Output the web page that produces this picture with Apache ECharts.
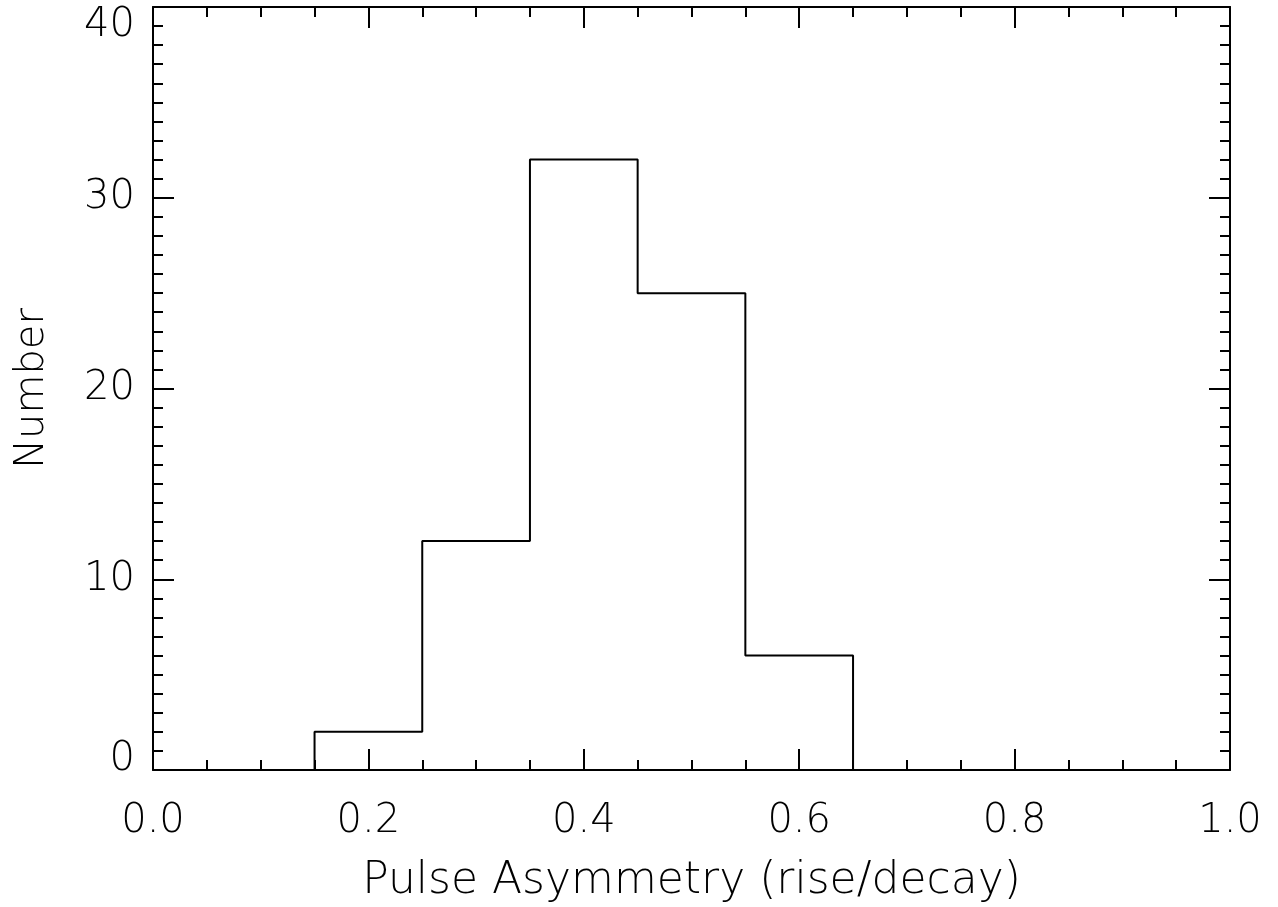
<!DOCTYPE html>
<html>
<head>
<meta charset="utf-8">
<script src="https://cdn.jsdelivr.net/npm/echarts@6/dist/echarts.min.js"></script>
<style>
html,body{margin:0;padding:0;background:#fff;}
#chart{width:1278px;height:907px;}
</style>
</head>
<body>
<div id="chart"></div>
<script>
// Histogram bin edges and counts
const binEdges = [0.15, 0.25, 0.35, 0.45, 0.55, 0.65];
const counts = [2, 12, 32, 25, 6];
const xTicks = [0.0, 0.2, 0.4, 0.6, 0.8, 1.0];
const yTicks = [0, 10, 20, 30, 40];
const xName = 'Pulse Asymmetry (rise/decay)';
const yName = 'Number';

// build step outline from bins
const outline = [[binEdges[0], 0]];
for (let i = 0; i < counts.length; i++) outline.push([binEdges[i + 1], counts[i]]);
outline.push([binEdges[binEdges.length - 1], 0]);

const FONT = 'DejaVu Sans';
const lineStyle = { color: '#000', width: 2 };
const chart = echarts.init(document.getElementById('chart'));
const yMin = yTicks[0], yMax = yTicks[yTicks.length - 1];

chart.setOption({
  animation: false,
  backgroundColor: '#fff',
  grid: { left: 153, right: 48, top: 7, bottom: 137, containLabel: false, outerBoundsMode: 'none' },
  xAxis: [{
    type: 'value', min: xTicks[0], max: xTicks[xTicks.length - 1], interval: 0.2,
    position: 'bottom',
    name: xName, nameLocation: 'middle', nameGap: 90,
    nameTextStyle: { fontFamily: FONT, fontSize: 44, fontWeight: 200, color: '#000', lineHeight: 44 },
    axisLine: { show: true, onZero: false, lineStyle: lineStyle },
    axisTick: { show: true, inside: true, length: 21, lineStyle: lineStyle },
    minorTick: { show: true, splitNumber: 4, length: 10, lineStyle: lineStyle },
    splitLine: { show: false }, minorSplitLine: { show: false },
    axisLabel: { show: true, margin: 32, fontFamily: FONT, fontSize: 40, fontWeight: 200, color: '#000', lineHeight: 40,
      formatter: v => v.toFixed(1) }
  }, {
    type: 'value', min: xTicks[0], max: xTicks[xTicks.length - 1], interval: 0.2,
    position: 'top',
    axisLine: { show: true, onZero: false, lineStyle: lineStyle },
    axisTick: { show: true, inside: true, length: 21, lineStyle: lineStyle },
    minorTick: { show: true, splitNumber: 4, length: 10, lineStyle: lineStyle },
    splitLine: { show: false }, axisLabel: { show: false }
  }],
  yAxis: [{
    type: 'value', min: yMin, max: yMax, interval: 10,
    position: 'left',
    name: yName, nameLocation: 'middle', nameGap: 100, nameRotate: 90,
    nameTextStyle: { fontFamily: FONT, fontSize: 40, fontWeight: 200, color: '#000' },
    axisLine: { show: true, onZero: false, lineStyle: lineStyle },
    axisTick: { show: true, inside: true, length: 21, lineStyle: lineStyle },
    minorTick: { show: true, splitNumber: 10, length: 10, lineStyle: lineStyle },
    splitLine: { show: false }, minorSplitLine: { show: false },
    axisLabel: { show: true, margin: 18, fontFamily: FONT, fontSize: 40, fontWeight: 200, color: '#000',
      formatter: v => v === yMax ? '{t|' + v + '}' : (v === yMin ? '{b|' + v + '}' : String(v)),
      rich: {
        t: { fontFamily: FONT, fontSize: 40, fontWeight: 200, color: '#000', padding: [38, 0, 0, 0] },
        b: { fontFamily: FONT, fontSize: 40, fontWeight: 200, color: '#000', padding: [0, 0, 20, 0] }
      } }
  }, {
    type: 'value', min: yMin, max: yMax, interval: 10,
    position: 'right',
    axisLine: { show: true, onZero: false, lineStyle: lineStyle },
    axisTick: { show: true, inside: true, length: 21, lineStyle: lineStyle },
    minorTick: { show: true, splitNumber: 10, length: 10, lineStyle: lineStyle },
    splitLine: { show: false }, axisLabel: { show: false }
  }],
  series: [{
    type: 'line', xAxisIndex: 0, yAxisIndex: 0,
    data: outline, step: 'start', showSymbol: false, symbol: 'none',
    lineStyle: { color: '#000', width: 2 }, silent: true
  }]
});
</script>
</body>
</html>
